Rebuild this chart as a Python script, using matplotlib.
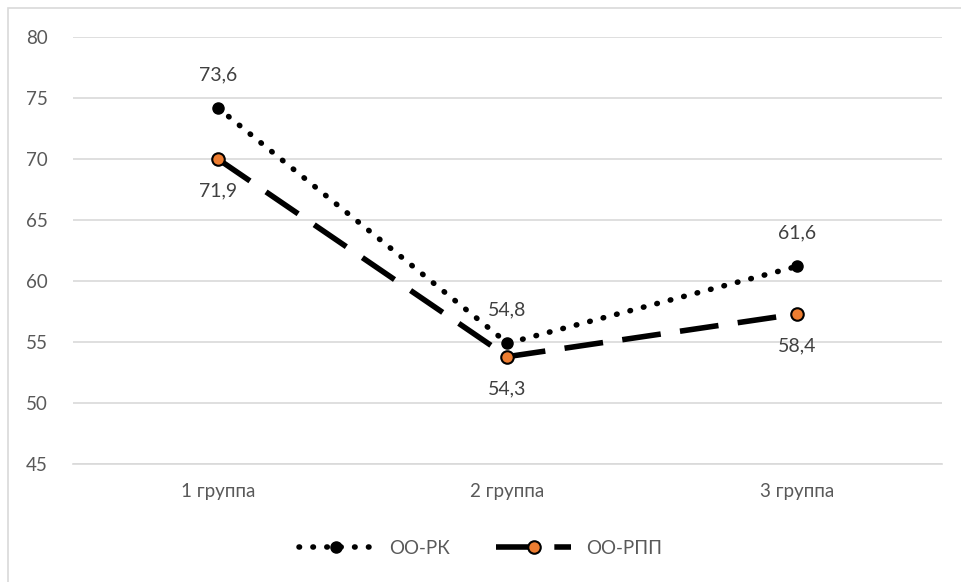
import matplotlib.pyplot as plt
from matplotlib.patches import Rectangle

groups = ['1 группа', '2 группа', '3 группа']
rk_vals = [74.2, 54.9, 61.2]
rpp_vals = [70.0, 53.8, 57.3]
rk_labels = ['73,6', '54,8', '61,6']
rpp_labels = ['71,9', '54,3', '58,4']

plt.rcParams['font.family'] = ['Lato', 'DejaVu Sans']

fig = plt.figure(figsize=(9.61, 5.82), dpi=100)
ax = fig.add_axes([73 / 961, 1 - 464 / 582, (942 - 73) / 961, 427 / 582])

# outer chart border (only top/left visible in reference)
fig.patches.append(Rectangle((8 / 961, -0.1), 1.2, 1 - 8 / 582 + 0.1,
                             transform=fig.transFigure, fill=False,
                             edgecolor='#d9d9d9', linewidth=1.2))

x = list(range(len(groups)))
ax.plot(x, rk_vals, color='black', linestyle=(0, (0.1, 2.4)), linewidth=4,
        dash_capstyle='round', marker='o', markersize=8,
        markerfacecolor='black', markeredgecolor='black', label='ОО-РК', zorder=3)
ax.plot(x, rpp_vals, color='black', linestyle=(0, (7, 3.5)), linewidth=4,
        marker='o', markersize=9, markerfacecolor='#ED7D31',
        markeredgecolor='black', markeredgewidth=1.5, label='ОО-РПП', zorder=4)

for i in x:
    ax.annotate(rk_labels[i], (i, rk_vals[i]), xytext=(0, 24), textcoords='offset points',
                ha='center', va='center', fontsize=14, color='#404040')
    ax.annotate(rpp_labels[i], (i, rpp_vals[i]), xytext=(0, -23), textcoords='offset points',
                ha='center', va='center', fontsize=14, color='#404040')

ax.set_xlim(-0.5, 2.5)
ax.set_ylim(45, 80)
ax.set_yticks(range(45, 81, 5))
ax.set_xticks(x)
ax.set_xticklabels(groups)
ax.grid(axis='y', color='#d9d9d9', linewidth=1.2)
ax.set_axisbelow(True)
for s in ['top', 'right', 'left']:
    ax.spines[s].set_visible(False)
ax.spines['bottom'].set_color('#d9d9d9')
ax.spines['bottom'].set_linewidth(1.2)
ax.tick_params(axis='both', length=0, labelsize=13.5, labelcolor='#595959')
ax.tick_params(axis='y', pad=18)
ax.tick_params(axis='x', pad=14)

fig.legend(*ax.get_legend_handles_labels(), loc='center',
           bbox_to_anchor=(0.5, 1 - 548 / 582), ncol=2, frameon=False,
           fontsize=13.5, handlelength=4, columnspacing=2.5, labelcolor='#595959')

fig.savefig('out.png', dpi=100)
